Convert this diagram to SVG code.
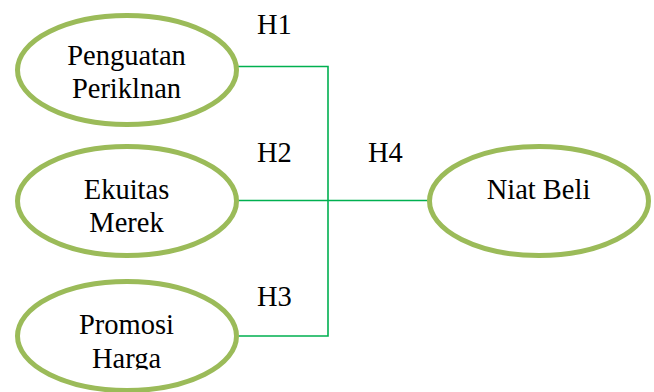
<svg xmlns="http://www.w3.org/2000/svg" width="654" height="392" viewBox="0 0 654 392">
  <style>
    .node ellipse { fill: #ffffff; stroke: #9BBB59; stroke-width: 5; }
    .label { font-family: "Liberation Serif", "Times New Roman", serif; font-size: 28.5px; fill: #000000; text-anchor: middle; }
    .hyp { font-family: "Liberation Serif", "Times New Roman", serif; font-size: 28.5px; fill: #000000; }
    .link { fill: none; stroke: #00B050; stroke-width: 1.6; }
  </style>
  <defs>
    <!-- text box of the bottom node ends just under the second line -->
    <clipPath id="promosi-textbox">
      <rect x="0" y="280" width="260" height="89.5"/>
    </clipPath>
  </defs>
  <rect width="654" height="392" fill="#ffffff"/>

  <!-- connectors -->
  <g id="connectors">
    <polyline class="link" points="237,66.5 328,66.5 328,336 237,336"/>
    <line class="link" x1="237" y1="200.5" x2="429" y2="200.5"/>
  </g>

  <!-- hypothesis labels -->
  <g id="hypotheses">
    <text class="hyp" x="257" y="34">H1</text>
    <text class="hyp" x="257" y="162">H2</text>
    <text class="hyp" x="257" y="306">H3</text>
    <text class="hyp" x="368" y="162">H4</text>
  </g>

  <g id="penguatan-periklanan" class="node">
    <ellipse cx="127" cy="70" rx="109.5" ry="54.5"/>
    <text class="label" x="126.5" y="65">Penguatan</text>
    <text class="label" x="126.5" y="98">Periklnan</text>
  </g>

  <g id="ekuitas-merek" class="node">
    <ellipse cx="127" cy="201" rx="109.5" ry="54.5"/>
    <text class="label" x="126.5" y="199">Ekuitas</text>
    <text class="label" x="126.5" y="232">Merek</text>
  </g>

  <g id="promosi-harga" class="node">
    <ellipse cx="127" cy="336" rx="109.5" ry="54.5"/>
    <g clip-path="url(#promosi-textbox)">
      <text class="label" x="126.5" y="334">Promosi</text>
      <text class="label" x="126.5" y="368">Harga</text>
    </g>
  </g>

  <g id="niat-beli" class="node">
    <ellipse cx="539" cy="201" rx="109.5" ry="54.5"/>
    <text class="label" x="538.5" y="199">Niat Beli</text>
  </g>
</svg>
